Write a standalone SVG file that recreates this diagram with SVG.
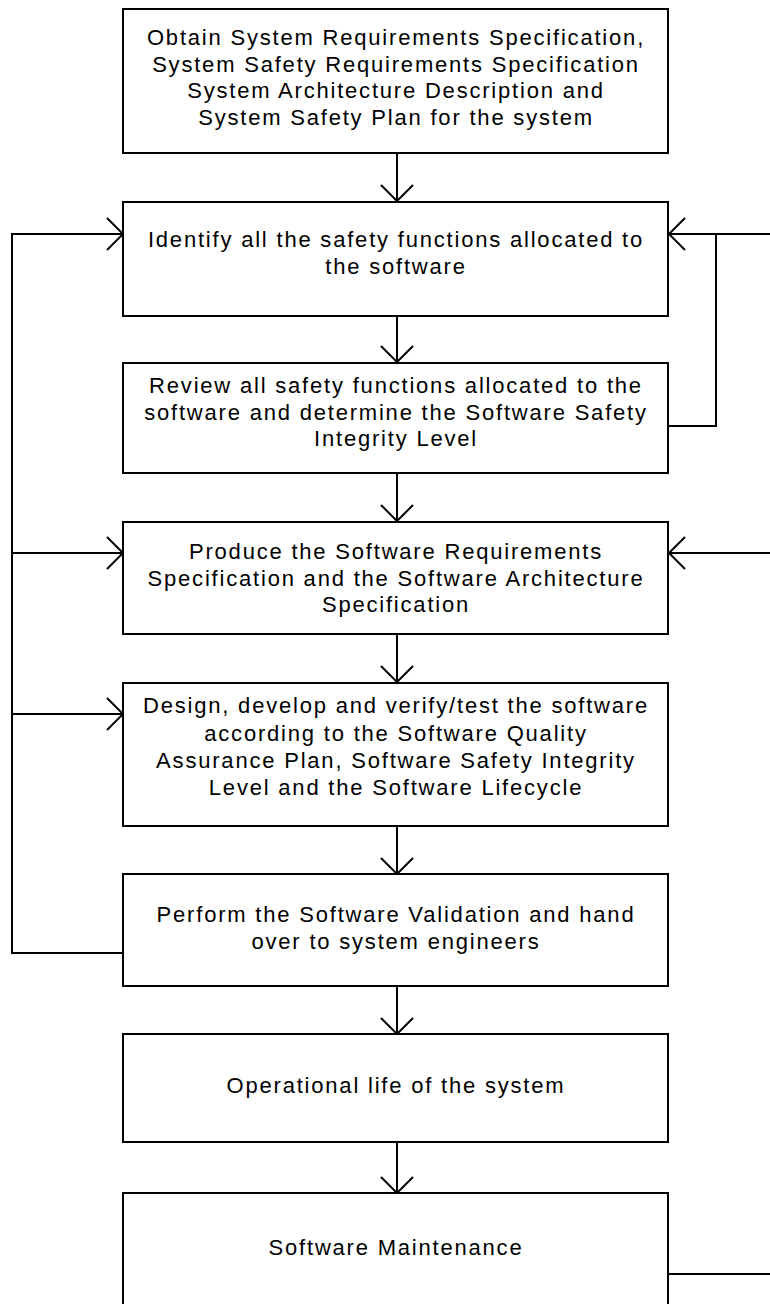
<svg xmlns="http://www.w3.org/2000/svg" width="770" height="1304" viewBox="0 0 770 1304">
<style>
.box{fill:#fff;stroke:#000;stroke-width:2}
.ln{fill:none;stroke:#000;stroke-width:2}
text{font-family:"Liberation Sans",Arial,sans-serif;font-size:22px;letter-spacing:1.8px;fill:#000;text-anchor:middle}
</style>
<defs>
<marker id="ah" markerUnits="userSpaceOnUse" markerWidth="40" markerHeight="40" refX="17" refY="17" orient="auto" viewBox="0 0 40 40">
<path d="M1,1 L17,17 L1,33" fill="none" stroke="#000" stroke-width="2"/>
</marker>
</defs>
<g id="connectors">
<line class="ln" x1="397" y1="153" x2="397" y2="201" marker-end="url(#ah)"/>
<line class="ln" x1="397" y1="316" x2="397" y2="362" marker-end="url(#ah)"/>
<line class="ln" x1="397" y1="473" x2="397" y2="521" marker-end="url(#ah)"/>
<line class="ln" x1="397" y1="634" x2="397" y2="682" marker-end="url(#ah)"/>
<line class="ln" x1="397" y1="826" x2="397" y2="874" marker-end="url(#ah)"/>
<line class="ln" x1="397" y1="986" x2="397" y2="1034" marker-end="url(#ah)"/>
<line class="ln" x1="397" y1="1142" x2="397" y2="1193" marker-end="url(#ah)"/>
<polyline class="ln" points="123,953 12,953 12,234 123,234" marker-end="url(#ah)"/>
<line class="ln" x1="12" y1="553" x2="123" y2="553" marker-end="url(#ah)"/>
<line class="ln" x1="12" y1="714" x2="123" y2="714" marker-end="url(#ah)"/>
<line class="ln" x1="770" y1="234" x2="669" y2="234" marker-end="url(#ah)"/>
<polyline class="ln" points="668,426 716,426 716,234"/>
<line class="ln" x1="770" y1="553" x2="669" y2="553" marker-end="url(#ah)"/>
<line class="ln" x1="668" y1="1274" x2="770" y2="1274"/>
</g>
<g id="n1"><rect class="box" x="123" y="9" width="545" height="144"/>
<text x="396" y="45">Obtain System Requirements Specification,</text>
<text x="396" y="72">System Safety Requirements Specification</text>
<text x="396" y="98">System Architecture Description and</text>
<text x="396" y="125">System Safety Plan for the system</text></g>
<g id="n2"><rect class="box" x="123" y="202" width="545" height="114"/>
<text x="396" y="247">Identify all the safety functions allocated to</text>
<text x="396" y="274">the software</text></g>
<g id="n3"><rect class="box" x="123" y="363" width="545" height="110"/>
<text x="396" y="393">Review all safety functions allocated to the</text>
<text x="396" y="420">software and determine the Software Safety</text>
<text x="396" y="446">Integrity Level</text></g>
<g id="n4"><rect class="box" x="123" y="522" width="545" height="112"/>
<text x="396" y="559">Produce the Software Requirements</text>
<text x="396" y="586">Specification and the Software Architecture</text>
<text x="396" y="612">Specification</text></g>
<g id="n5"><rect class="box" x="123" y="683" width="545" height="143"/>
<text x="396" y="713">Design, develop and verify/test the software</text>
<text x="396" y="741">according to the Software Quality</text>
<text x="396" y="768">Assurance Plan, Software Safety Integrity</text>
<text x="396" y="795">Level and the Software Lifecycle</text></g>
<g id="n6"><rect class="box" x="123" y="874" width="545" height="112"/>
<text x="396" y="922">Perform the Software Validation and hand</text>
<text x="396" y="949">over to system engineers</text></g>
<g id="n7"><rect class="box" x="123" y="1034" width="545" height="108"/>
<text x="396" y="1093">Operational life of the system</text></g>
<g id="n8"><rect class="box" x="123" y="1193" width="545" height="130"/>
<text x="396" y="1255">Software Maintenance</text></g>
</svg>
